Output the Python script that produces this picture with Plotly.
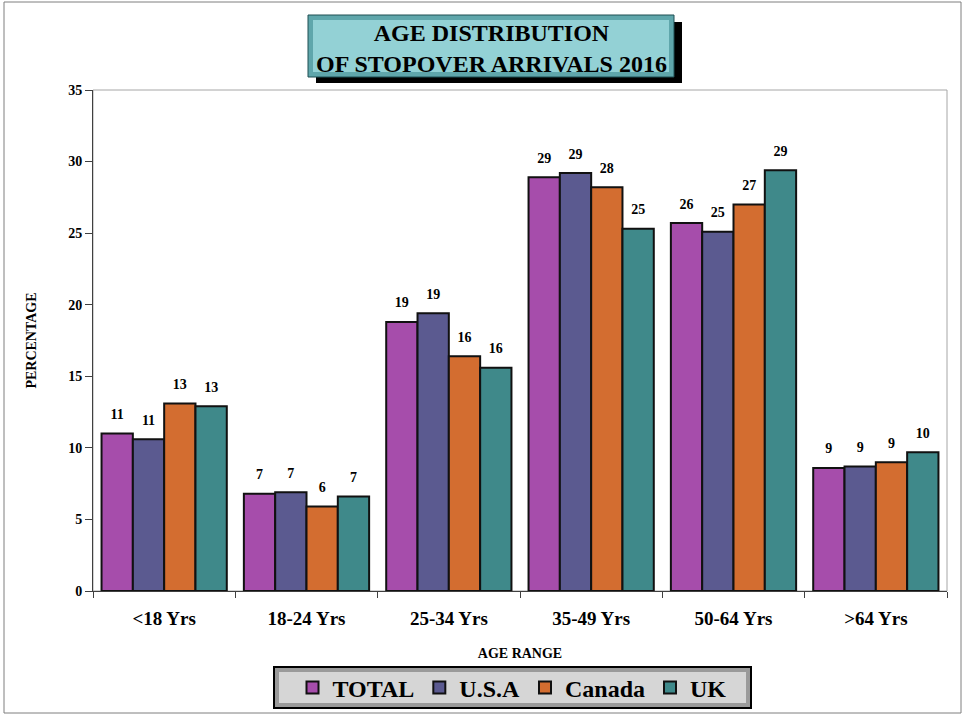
import plotly.graph_objects as go

# Age ranges and share of stopover arrivals (%) by market, 2016
age_ranges = ["<18 Yrs", "18-24 Yrs", "25-34 Yrs", "35-49 Yrs", "50-64 Yrs", ">64 Yrs"]
total_pct = [11.0, 6.8, 18.8, 28.9, 25.7, 8.6]
usa_pct = [10.6, 6.9, 19.4, 29.2, 25.1, 8.7]
canada_pct = [13.1, 5.9, 16.4, 28.2, 27.0, 9.0]
uk_pct = [12.9, 6.6, 15.6, 25.3, 29.4, 9.7]

series_names = ["TOTAL", "U.S.A", "Canada", "UK"]
series_values = [total_pct, usa_pct, canada_pct, uk_pct]
series_colors = ["#a64dab", "#5b5a90", "#d36d30", "#3f898a"]

y_ticks = [0, 5, 10, 15, 20, 25, 30, 35]

SERIF = "Liberation Serif"
GAP = 0.12

fig = go.Figure()
for name, vals, col in zip(series_names, series_values, series_colors):
    fig.add_trace(go.Bar(
        name=name,
        x=age_ranges,
        y=vals,
        offsetgroup=name,
        marker=dict(color=col, line=dict(color="#111111", width=2)),
        cliponaxis=False,
    ))

# value labels, grouped like the bars and lifted a little above each bar top
for name, vals in zip(series_names, series_values):
    fig.add_trace(go.Scatter(
        x=age_ranges,
        y=vals,
        offsetgroup=name,
        mode="markers+text",
        text=[f"{v:.0f}" for v in vals],
        textposition="top center",
        textfont=dict(family=SERIF, size=14, color="#000000", weight="bold"),
        marker=dict(size=16, color="rgba(0,0,0,0)"),
        showlegend=False,
        hoverinfo="skip",
        cliponaxis=False,
    ))

W, H = 966, 717
ML, MR, MT, MB = 93, 19, 90, 126
PW, PH = W - ML - MR, H - MT - MB


def px(x):
    return (x - ML) / PW


def py(y):
    return (H - MB - y) / PH


shapes = [
    # outer page frame
    dict(type="rect", xref="paper", yref="paper", x0=px(4), x1=px(961), y0=py(713), y1=py(2),
         line=dict(color="#7f7f7f", width=1), fillcolor="rgba(0,0,0,0)", layer="below"),
    # plot area frame
    dict(type="rect", xref="paper", yref="paper", x0=0, x1=1, y0=0, y1=1,
         line=dict(color="#a6a6a6", width=1), fillcolor="rgba(0,0,0,0)", layer="below"),
    # title panel: shadow, bevel edge, face
    dict(type="rect", xref="paper", yref="paper", x0=px(316), x1=px(682), y0=py(83), y1=py(22),
         line=dict(width=0), fillcolor="#000000"),
    dict(type="rect", xref="paper", yref="paper", x0=px(308), x1=px(674), y0=py(77), y1=py(15),
         line=dict(color="#1f4f52", width=1), fillcolor="#5fa6ab"),
    dict(type="rect", xref="paper", yref="paper", x0=px(313), x1=px(669), y0=py(72), y1=py(20),
         line=dict(width=0), fillcolor="#93d1d5"),
    # legend panel: border, bevel edge, face
    dict(type="rect", xref="paper", yref="paper", x0=px(274), x1=px(751), y0=py(708), y1=py(667),
         line=dict(color="#000000", width=2), fillcolor="#9a9a9a"),
    dict(type="rect", xref="paper", yref="paper", x0=px(279), x1=px(746), y0=py(703), y1=py(672),
         line=dict(width=0), fillcolor="#d6d6d6"),
]

annotations = [
    dict(text="AGE DISTRIBUTION<br>OF STOPOVER ARRIVALS 2016", xref="paper", yref="paper",
         x=px(491), y=py(48), xanchor="center", yanchor="middle", showarrow=False,
         font=dict(family=SERIF, size=24, color="#000000", weight="bold")),
]

fig.update_layout(
    width=W, height=H,
    margin=dict(l=ML, r=MR, t=MT, b=MB, autoexpand=False),
    paper_bgcolor="#ffffff",
    plot_bgcolor="#ffffff",
    barmode="group",
    bargap=GAP,
    bargroupgap=0,
    scattermode="group",
    scattergap=GAP,
    shapes=shapes,
    annotations=annotations,
    showlegend=True,
    legend=dict(
        orientation="h", x=px(512), xanchor="center", y=py(688), yanchor="middle",
        bgcolor="rgba(0,0,0,0)", borderwidth=0,
        font=dict(family=SERIF, size=24, color="#000000", weight="bold"),
        itemclick=False,
    ),
    xaxis=dict(
        showline=True, linecolor="#404040", linewidth=1,
        ticks="outside", ticklen=6, tickcolor="#404040", tickson="boundaries",
        ticklabelstandoff=10,
        tickfont=dict(family=SERIF, size=19, color="#000000", weight="bold"),
        title=dict(text="AGE RANGE", standoff=20,
                   font=dict(family=SERIF, size=14, color="#000000", weight="bold")),
        showgrid=False,
    ),
    yaxis=dict(
        range=[0, 35], tickvals=y_ticks,
        showline=True, linecolor="#404040", linewidth=1,
        ticks="outside", ticklen=7, tickcolor="#404040",
        tickfont=dict(family=SERIF, size=14, color="#000000", weight="bold"),
        title=dict(text="PERCENTAGE", standoff=28,
                   font=dict(family=SERIF, size=14, color="#000000", weight="bold")),
        showgrid=False, zeroline=False,
    ),
)

fig.write_html("out.html")
